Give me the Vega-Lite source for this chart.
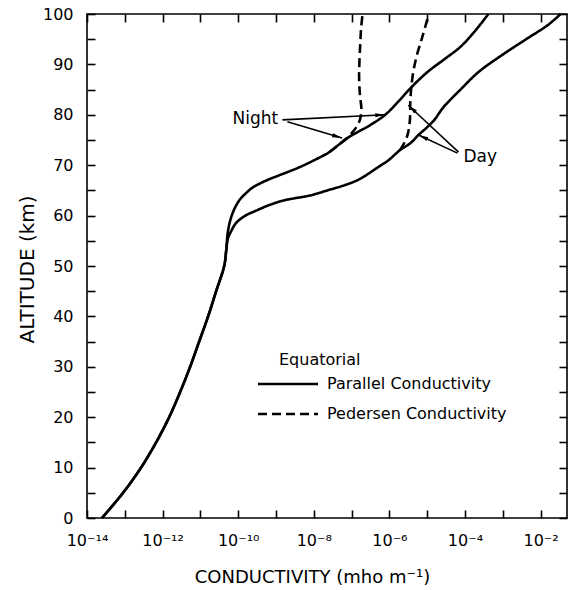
{
  "$schema": "https://vega.github.io/schema/vega-lite/v6.json",
  "width": 480,
  "height": 504,
  "autosize": "none",
  "padding": {"left": 87, "top": 14, "right": 7, "bottom": 72},
  "background": "white",
  "config": {
    "font": "DejaVu Sans",
    "view": {"stroke": "black", "strokeWidth": 1.6},
    "axis": {
      "grid": false,
      "domain": false,
      "offset": -8,
      "ticks": true,
      "tickColor": "black",
      "tickWidth": 1.6,
      "tickSize": 8,
      "labelColor": "black",
      "labelFontSize": 16,
      "labelFlush": false,
      "labelOverlap": false,
      "titleColor": "black",
      "titleFontWeight": "normal"
    }
  },
  "datasets": {
    "curves": [
      {"curve": "night", "kind": "Parallel Conductivity", "alt": 0, "sigma": 2.49e-14},
      {"curve": "night", "kind": "Parallel Conductivity", "alt": 5, "sigma": 9.0e-14},
      {"curve": "night", "kind": "Parallel Conductivity", "alt": 10, "sigma": 2.69e-13},
      {"curve": "night", "kind": "Parallel Conductivity", "alt": 15, "sigma": 6.73e-13},
      {"curve": "night", "kind": "Parallel Conductivity", "alt": 20, "sigma": 1.49e-12},
      {"curve": "night", "kind": "Parallel Conductivity", "alt": 25, "sigma": 2.91e-12},
      {"curve": "night", "kind": "Parallel Conductivity", "alt": 30, "sigma": 5.35e-12},
      {"curve": "night", "kind": "Parallel Conductivity", "alt": 35, "sigma": 9.26e-12},
      {"curve": "night", "kind": "Parallel Conductivity", "alt": 40, "sigma": 1.60e-11},
      {"curve": "night", "kind": "Parallel Conductivity", "alt": 45, "sigma": 2.61e-11},
      {"curve": "night", "kind": "Parallel Conductivity", "alt": 50, "sigma": 4.26e-11},
      {"curve": "night", "kind": "Parallel Conductivity", "alt": 53, "sigma": 4.81e-11},
      {"curve": "night", "kind": "Parallel Conductivity", "alt": 56.5, "sigma": 5.27e-11},
      {"curve": "night", "kind": "Parallel Conductivity", "alt": 59, "sigma": 6.14e-11},
      {"curve": "night", "kind": "Parallel Conductivity", "alt": 61, "sigma": 7.60e-11},
      {"curve": "night", "kind": "Parallel Conductivity", "alt": 63, "sigma": 1.06e-10},
      {"curve": "night", "kind": "Parallel Conductivity", "alt": 64.5, "sigma": 1.63e-10},
      {"curve": "night", "kind": "Parallel Conductivity", "alt": 65.5, "sigma": 2.35e-10},
      {"curve": "night", "kind": "Parallel Conductivity", "alt": 66.5, "sigma": 4.07e-10},
      {"curve": "night", "kind": "Parallel Conductivity", "alt": 67.3, "sigma": 7.05e-10},
      {"curve": "night", "kind": "Parallel Conductivity", "alt": 68, "sigma": 1.22e-9},
      {"curve": "night", "kind": "Parallel Conductivity", "alt": 69.5, "sigma": 3.88e-9},
      {"curve": "night", "kind": "Parallel Conductivity", "alt": 71, "sigma": 1.03e-8},
      {"curve": "night", "kind": "Parallel Conductivity", "alt": 72.6, "sigma": 2.58e-8},
      {"curve": "night", "kind": "Parallel Conductivity", "alt": 74, "sigma": 4.46e-8},
      {"curve": "night", "kind": "Parallel Conductivity", "alt": 75.4, "sigma": 7.71e-8},
      {"curve": "night", "kind": "Parallel Conductivity", "alt": 78, "sigma": 3.16e-7},
      {"curve": "night", "kind": "Parallel Conductivity", "alt": 80, "sigma": 7.76e-7},
      {"curve": "night", "kind": "Parallel Conductivity", "alt": 82.5, "sigma": 1.66e-6},
      {"curve": "night", "kind": "Parallel Conductivity", "alt": 85.3, "sigma": 3.63e-6},
      {"curve": "night", "kind": "Parallel Conductivity", "alt": 88.5, "sigma": 1.02e-5},
      {"curve": "night", "kind": "Parallel Conductivity", "alt": 91, "sigma": 2.82e-5},
      {"curve": "night", "kind": "Parallel Conductivity", "alt": 93.5, "sigma": 7.59e-5},
      {"curve": "night", "kind": "Parallel Conductivity", "alt": 96.5, "sigma": 1.78e-4},
      {"curve": "night", "kind": "Parallel Conductivity", "alt": 100, "sigma": 4.17e-4},

      {"curve": "day", "kind": "Parallel Conductivity", "alt": 0, "sigma": 2.49e-14},
      {"curve": "day", "kind": "Parallel Conductivity", "alt": 5, "sigma": 9.0e-14},
      {"curve": "day", "kind": "Parallel Conductivity", "alt": 10, "sigma": 2.69e-13},
      {"curve": "day", "kind": "Parallel Conductivity", "alt": 15, "sigma": 6.73e-13},
      {"curve": "day", "kind": "Parallel Conductivity", "alt": 20, "sigma": 1.49e-12},
      {"curve": "day", "kind": "Parallel Conductivity", "alt": 25, "sigma": 2.91e-12},
      {"curve": "day", "kind": "Parallel Conductivity", "alt": 30, "sigma": 5.35e-12},
      {"curve": "day", "kind": "Parallel Conductivity", "alt": 35, "sigma": 9.26e-12},
      {"curve": "day", "kind": "Parallel Conductivity", "alt": 40, "sigma": 1.60e-11},
      {"curve": "day", "kind": "Parallel Conductivity", "alt": 45, "sigma": 2.61e-11},
      {"curve": "day", "kind": "Parallel Conductivity", "alt": 50, "sigma": 4.26e-11},
      {"curve": "day", "kind": "Parallel Conductivity", "alt": 53, "sigma": 4.81e-11},
      {"curve": "day", "kind": "Parallel Conductivity", "alt": 55.5, "sigma": 5.37e-11},
      {"curve": "day", "kind": "Parallel Conductivity", "alt": 57, "sigma": 6.61e-11},
      {"curve": "day", "kind": "Parallel Conductivity", "alt": 58.5, "sigma": 8.71e-11},
      {"curve": "day", "kind": "Parallel Conductivity", "alt": 60, "sigma": 1.55e-10},
      {"curve": "day", "kind": "Parallel Conductivity", "alt": 61, "sigma": 3.02e-10},
      {"curve": "day", "kind": "Parallel Conductivity", "alt": 62, "sigma": 6.17e-10},
      {"curve": "day", "kind": "Parallel Conductivity", "alt": 63, "sigma": 1.58e-9},
      {"curve": "day", "kind": "Parallel Conductivity", "alt": 64, "sigma": 7.94e-9},
      {"curve": "day", "kind": "Parallel Conductivity", "alt": 65, "sigma": 2.29e-8},
      {"curve": "day", "kind": "Parallel Conductivity", "alt": 66, "sigma": 6.31e-8},
      {"curve": "day", "kind": "Parallel Conductivity", "alt": 67, "sigma": 1.41e-7},
      {"curve": "day", "kind": "Parallel Conductivity", "alt": 68, "sigma": 2.40e-7},
      {"curve": "day", "kind": "Parallel Conductivity", "alt": 69, "sigma": 3.80e-7},
      {"curve": "day", "kind": "Parallel Conductivity", "alt": 70, "sigma": 6.03e-7},
      {"curve": "day", "kind": "Parallel Conductivity", "alt": 71, "sigma": 9.55e-7},
      {"curve": "day", "kind": "Parallel Conductivity", "alt": 72, "sigma": 1.35e-6},
      {"curve": "day", "kind": "Parallel Conductivity", "alt": 73, "sigma": 1.91e-6},
      {"curve": "day", "kind": "Parallel Conductivity", "alt": 74.4, "sigma": 3.63e-6},
      {"curve": "day", "kind": "Parallel Conductivity", "alt": 76, "sigma": 5.89e-6},
      {"curve": "day", "kind": "Parallel Conductivity", "alt": 77.6, "sigma": 1.02e-5},
      {"curve": "day", "kind": "Parallel Conductivity", "alt": 79, "sigma": 1.55e-5},
      {"curve": "day", "kind": "Parallel Conductivity", "alt": 81.5, "sigma": 2.69e-5},
      {"curve": "day", "kind": "Parallel Conductivity", "alt": 85, "sigma": 7.59e-5},
      {"curve": "day", "kind": "Parallel Conductivity", "alt": 88.5, "sigma": 2.29e-4},
      {"curve": "day", "kind": "Parallel Conductivity", "alt": 91.9, "sigma": 9.77e-4},
      {"curve": "day", "kind": "Parallel Conductivity", "alt": 95.2, "sigma": 4.57e-3},
      {"curve": "day", "kind": "Parallel Conductivity", "alt": 97.8, "sigma": 1.55e-2},
      {"curve": "day", "kind": "Parallel Conductivity", "alt": 100, "sigma": 3.39e-2},

      {"curve": "nightP", "kind": "Pedersen Conductivity", "alt": 72.6, "sigma": 2.58e-8},
      {"curve": "nightP", "kind": "Pedersen Conductivity", "alt": 74, "sigma": 4.46e-8},
      {"curve": "nightP", "kind": "Pedersen Conductivity", "alt": 75.4, "sigma": 7.71e-8},
      {"curve": "nightP", "kind": "Pedersen Conductivity", "alt": 76.6, "sigma": 1.07e-7},
      {"curve": "nightP", "kind": "Pedersen Conductivity", "alt": 77.6, "sigma": 1.35e-7},
      {"curve": "nightP", "kind": "Pedersen Conductivity", "alt": 79, "sigma": 1.66e-7},
      {"curve": "nightP", "kind": "Pedersen Conductivity", "alt": 81, "sigma": 1.82e-7},
      {"curve": "nightP", "kind": "Pedersen Conductivity", "alt": 84, "sigma": 1.66e-7},
      {"curve": "nightP", "kind": "Pedersen Conductivity", "alt": 87.5, "sigma": 1.58e-7},
      {"curve": "nightP", "kind": "Pedersen Conductivity", "alt": 91, "sigma": 1.62e-7},
      {"curve": "nightP", "kind": "Pedersen Conductivity", "alt": 94.2, "sigma": 1.70e-7},
      {"curve": "nightP", "kind": "Pedersen Conductivity", "alt": 97, "sigma": 1.78e-7},
      {"curve": "nightP", "kind": "Pedersen Conductivity", "alt": 100, "sigma": 1.95e-7},

      {"curve": "dayP", "kind": "Pedersen Conductivity", "alt": 73, "sigma": 1.91e-6},
      {"curve": "dayP", "kind": "Pedersen Conductivity", "alt": 74.5, "sigma": 2.51e-6},
      {"curve": "dayP", "kind": "Pedersen Conductivity", "alt": 76, "sigma": 3.02e-6},
      {"curve": "dayP", "kind": "Pedersen Conductivity", "alt": 78, "sigma": 3.39e-6},
      {"curve": "dayP", "kind": "Pedersen Conductivity", "alt": 80, "sigma": 3.55e-6},
      {"curve": "dayP", "kind": "Pedersen Conductivity", "alt": 82, "sigma": 3.55e-6},
      {"curve": "dayP", "kind": "Pedersen Conductivity", "alt": 83.5, "sigma": 3.63e-6},
      {"curve": "dayP", "kind": "Pedersen Conductivity", "alt": 85.5, "sigma": 3.80e-6},
      {"curve": "dayP", "kind": "Pedersen Conductivity", "alt": 88.9, "sigma": 4.37e-6},
      {"curve": "dayP", "kind": "Pedersen Conductivity", "alt": 92.2, "sigma": 5.50e-6},
      {"curve": "dayP", "kind": "Pedersen Conductivity", "alt": 94.2, "sigma": 6.61e-6},
      {"curve": "dayP", "kind": "Pedersen Conductivity", "alt": 95.4, "sigma": 7.41e-6},
      {"curve": "dayP", "kind": "Pedersen Conductivity", "alt": 97.5, "sigma": 8.91e-6},
      {"curve": "dayP", "kind": "Pedersen Conductivity", "alt": 100, "sigma": 1.10e-5}
    ],
    "arrows": [
      {"id": "night1", "x": 1.48e-9, "alt": 79.0, "x2": 7.76e-7, "alt2": 80.0},
      {"id": "night2", "x": 2.00e-9, "alt": 78.6, "x2": 5.62e-8, "alt2": 75.4},
      {"id": "day1", "x": 6.76e-5, "alt": 72.6, "x2": 3.16e-6, "alt2": 81.9},
      {"id": "day2", "x": 6.31e-5, "alt": 72.4, "x2": 5.89e-6, "alt2": 76.0}
    ],
    "labels": [
      {"label": "Night", "x": 1.29e-9, "alt": 79.2, "side": "left"},
      {"label": "Day", "x": 9.12e-5, "alt": 71.6, "side": "right"}
    ]
  },
  "resolve": {"axis": {"x": "independent", "y": "independent"}},
  "layer": [
    {
      "data": {"name": "curves"},
      "mark": {"type": "line", "color": "black", "strokeWidth": 2.6, "interpolate": "catmull-rom"},
      "encoding": {
        "x": {
          "field": "sigma",
          "type": "quantitative",
          "scale": {"type": "log", "domain": [1e-14, 0.05], "nice": false},
          "axis": {
            "orient": "bottom",
            "values": [1e-14, 1e-13, 1e-12, 1e-11, 1e-10, 1e-9, 1e-8, 1e-7, 1e-6, 1e-5, 1e-4, 1e-3, 1e-2],
            "labelExpr": "abs(log(datum.value)/LN10 + 14) < 0.01 ? '10⁻¹⁴' : abs(log(datum.value)/LN10 + 12) < 0.01 ? '10⁻¹²' : abs(log(datum.value)/LN10 + 10) < 0.01 ? '10⁻¹⁰' : abs(log(datum.value)/LN10 + 8) < 0.01 ? '10⁻⁸' : abs(log(datum.value)/LN10 + 6) < 0.01 ? '10⁻⁶' : abs(log(datum.value)/LN10 + 4) < 0.01 ? '10⁻⁴' : abs(log(datum.value)/LN10 + 2) < 0.01 ? '10⁻²' : ''",
            "labelPadding": 14,
            "title": "CONDUCTIVITY (mho m⁻¹)",
            "titleFontSize": 18,
            "titleX": 225,
            "titleY": 67,
            "titleBaseline": "middle"
          }
        },
        "y": {
          "field": "alt",
          "type": "quantitative",
          "scale": {"domain": [0, 100], "nice": false, "zero": false},
          "axis": {
            "orient": "left",
            "values": [0, 5, 10, 15, 20, 25, 30, 35, 40, 45, 50, 55, 60, 65, 70, 75, 80, 85, 90, 95, 100],
            "labelExpr": "datum.value % 10 == 0 ? datum.label : ''",
            "labelPadding": 14,
            "title": "ALTITUDE (km)",
            "titleFontSize": 20,
            "titleX": -68,
            "titleY": 255,
            "titleAngle": -90,
            "titleBaseline": "middle"
          }
        },
        "detail": {"field": "curve"},
        "order": {"field": "alt", "type": "quantitative"},
        "strokeDash": {
          "field": "kind",
          "type": "nominal",
          "scale": {"domain": ["Parallel Conductivity", "Pedersen Conductivity"], "range": [[1, 0], [9, 5]]},
          "legend": {
            "orient": "none",
            "legendX": 192,
            "legendY": 338,
            "title": "Equatorial",
            "titleFontSize": 16,
            "titleFontWeight": "normal",
            "titleColor": "black",
            "titlePadding": 7,
            "labelFontSize": 16,
            "labelColor": "black",
            "labelLimit": 400,
            "symbolType": "M-4,0H4",
            "symbolSize": 225,
            "symbolStrokeWidth": 2.6,
            "symbolStrokeColor": "black",
            "labelOffset": 30,
            "rowPadding": 13
          }
        }
      }
    },
    {
      "data": {"name": "arrows"},
      "mark": {"type": "rule", "color": "black", "strokeWidth": 1.6},
      "encoding": {
        "x": {
          "field": "x",
          "type": "quantitative",
          "axis": {
            "orient": "top",
            "values": [1e-14, 1e-13, 1e-12, 1e-11, 1e-10, 1e-9, 1e-8, 1e-7, 1e-6, 1e-5, 1e-4, 1e-3, 1e-2],
            "labels": false,
            "title": null
          }
        },
        "x2": {"field": "x2"},
        "y": {
          "field": "alt",
          "type": "quantitative",
          "axis": {
            "orient": "right",
            "values": [0, 5, 10, 15, 20, 25, 30, 35, 40, 45, 50, 55, 60, 65, 70, 75, 80, 85, 90, 95, 100],
            "labels": false,
            "title": null
          }
        },
        "y2": {"field": "alt2"}
      }
    },
    {
      "data": {"name": "arrows"},
      "transform": [{"filter": "datum.id == 'night1'"}],
      "mark": {"type": "point", "shape": "M0,0L0.4,2L-0.4,2Z", "filled": true, "color": "black", "size": 100, "angle": 87, "opacity": 1},
      "encoding": {
        "x": {"field": "x2", "type": "quantitative", "axis": null},
        "y": {"field": "alt2", "type": "quantitative", "axis": null}
      }
    },
    {
      "data": {"name": "arrows"},
      "transform": [{"filter": "datum.id == 'night2'"}],
      "mark": {"type": "point", "shape": "M0,0L0.4,2L-0.4,2Z", "filled": true, "color": "black", "size": 100, "angle": 106, "opacity": 1},
      "encoding": {
        "x": {"field": "x2", "type": "quantitative", "axis": null},
        "y": {"field": "alt2", "type": "quantitative", "axis": null}
      }
    },
    {
      "data": {"name": "arrows"},
      "transform": [{"filter": "datum.id == 'day1'"}],
      "mark": {"type": "point", "shape": "M0,0L0.4,2L-0.4,2Z", "filled": true, "color": "black", "size": 100, "angle": 313, "opacity": 1},
      "encoding": {
        "x": {"field": "x2", "type": "quantitative", "axis": null},
        "y": {"field": "alt2", "type": "quantitative", "axis": null}
      }
    },
    {
      "data": {"name": "arrows"},
      "transform": [{"filter": "datum.id == 'day2'"}],
      "mark": {"type": "point", "shape": "M0,0L0.4,2L-0.4,2Z", "filled": true, "color": "black", "size": 100, "angle": 295, "opacity": 1},
      "encoding": {
        "x": {"field": "x2", "type": "quantitative", "axis": null},
        "y": {"field": "alt2", "type": "quantitative", "axis": null}
      }
    },
    {
      "data": {"name": "labels"},
      "transform": [{"filter": "datum.side == 'left'"}],
      "mark": {"type": "text", "align": "right", "baseline": "middle", "fontSize": 17, "color": "black", "dx": -2},
      "encoding": {
        "x": {"field": "x", "type": "quantitative", "axis": null},
        "y": {"field": "alt", "type": "quantitative", "axis": null},
        "text": {"field": "label"}
      }
    },
    {
      "data": {"name": "labels"},
      "transform": [{"filter": "datum.side == 'right'"}],
      "mark": {"type": "text", "align": "left", "baseline": "middle", "fontSize": 17, "color": "black"},
      "encoding": {
        "x": {"field": "x", "type": "quantitative", "axis": null},
        "y": {"field": "alt", "type": "quantitative", "axis": null},
        "text": {"field": "label"}
      }
    }
  ]
}
